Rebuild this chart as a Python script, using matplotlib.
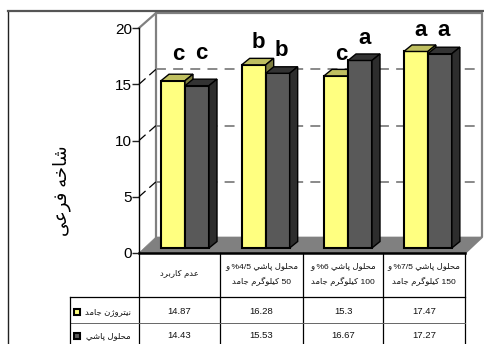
import re
import unicodedata
import numpy as np
import matplotlib
matplotlib.use('Agg')
import matplotlib.pyplot as plt
from matplotlib.patches import Polygon, Rectangle

plt.rcParams['font.family'] = ['Liberation Sans', 'DejaVu Sans']

categories = ['عدم کاربرد',
              'محلول پاشي %4/5 و\n50 کيلوگرم جامد',
              'محلول پاشي %6 و\n100 کيلوگرم جامد',
              'محلول پاشي %7/5 و\n150 کيلوگرم جامد']
series_names = ['نيتروژن جامد', 'محلول پاشي']
solid_n = [14.87, 16.28, 15.3, 17.47]
spray = [14.43, 15.53, 16.67, 17.27]
solid_letters = ['c', 'b', 'c', 'a']
spray_letters = ['c', 'b', 'a', 'a']
solid_letter_y = [17.6, 18.7, 17.6, 19.8]
spray_letter_y = [17.7, 18.0, 19.1, 19.8]
yticks = [0, 5, 10, 15, 20]
ylabel = 'شاخه فرعی'

# contextual forms, matplotlib does no arabic shaping itself
forms = {}
for code in list(range(0xFB50, 0xFE00)) + list(range(0xFE70, 0xFEFF)):
    d = unicodedata.decomposition(chr(code)).split()
    if len(d) == 2 and d[0] in ('<isolated>', '<final>', '<initial>', '<medial>'):
        forms.setdefault(chr(int(d[1], 16)), {}).setdefault(d[0], chr(code))
no_next = set('اآدذرزژو')


def shape_word(w):
    out = ''
    for i, c in enumerate(w):
        prev = i > 0 and w[i - 1] not in no_next
        nxt = i < len(w) - 1 and c not in no_next
        key = {(0, 0): '<isolated>', (1, 0): '<final>', (0, 1): '<initial>', (1, 1): '<medial>'}[(int(prev), int(nxt))]
        out += forms.get(c, {}).get(key, c)
    return out[::-1]


def shape(text):
    lines = []
    for line in text.split('\n'):
        words = [shape_word(w) if re.search('[\u0600-\u06ff]', w) else w for w in line.split(' ')]
        lines.append(' '.join(words[::-1]))
    return '\n'.join(lines)


fig = plt.figure(figsize=(4.85, 3.44), dpi=100, facecolor='white')

# pixel layer for walls, table and frame
px = fig.add_axes([0, 0, 1, 1])
px.set_xlim(0, 485)
px.set_ylim(344, 0)
px.axis('off')

x0, x1, y0, y20 = 139, 465, 253, 28
ddx, ddy = 17, 16
px.add_patch(Polygon([(x0, y0), (x0 + ddx, y0 - ddy), (x1 + ddx, y0 - ddy), (x1, y0)], fc='#808080', ec='#808080', lw=0.5))
px.plot([x0, x0 + ddx, x1 + ddx, x1 + ddx, x1], [y20, y20 - 15, y20 - 15, y0 - ddy, y0], color='#808080', lw=1.6)
px.plot([x0 + ddx, x0 + ddx], [y20 - 15, y0 - ddy], color='#808080', lw=1.6)

# outer frame
px.plot([8, 8], [344, 11], color='#222222', lw=1)
px.plot([8, 485], [11, 11], color='#555555', lw=1.6)

ax = fig.add_axes([x0 / 485, (344 - y0) / 344, (x1 - x0) / 485, (y0 - y20) / 344])
ax.set_xlim(0, 4)
ax.set_ylim(0, 20)
ax.patch.set_alpha(0)
for s in ax.spines.values():
    s.set_visible(False)
ax.spines['left'].set_visible(True)
ax.spines['left'].set_linewidth(1)
ax.set_xticks([])
ax.set_yticks(yticks)
ax.tick_params(axis='y', length=5, width=1, labelsize=11, pad=0, color='#222222')

xu = (x1 - x0) / 4
yu = (y0 - y20) / 20
wall_x, wall_y = ddx / xu, 15 / yu
for v in yticks[1:-1]:
    ax.plot([0, wall_x], [v, v + wall_y], color='black', lw=0.9, ls=(0, (7, 4)), clip_on=False, zorder=1)
    ax.plot([wall_x, 4 + wall_x], [v + wall_y, v + wall_y], color='#808080', lw=1.3, ls=(0, (5.5, 4)), clip_on=False, zorder=1)

# bars sit part way into the floor, so shift them off the front edge
shift_x, shift_y = 0.27, 5 / yu
width = 24 / xu
dep_x, dep_y = 8 / xu, 6.5 / yu
starts = np.arange(4) + np.array([0, -0.01, 0, -0.02]) + shift_x


def draw_series(left, vals, face, top, side, edge_front):
    ax.bar(left, vals, width, bottom=shift_y, align='edge', color=face, edgecolor=edge_front, lw=1.5, clip_on=False, zorder=3)
    for l, v in zip(left, vals):
        t = v + shift_y
        ax.add_patch(Polygon([(l, t), (l + dep_x, t + dep_y), (l + width + dep_x, t + dep_y), (l + width, t)],
                             fc=top, ec='black', lw=1, clip_on=False, zorder=3))
        ax.add_patch(Polygon([(l + width, t), (l + width + dep_x, t + dep_y), (l + width + dep_x, shift_y + dep_y), (l + width, shift_y)],
                             fc=side, ec='black', lw=1, clip_on=False, zorder=3))


draw_series(starts, solid_n, '#FFFF80', '#BFBF60', '#7F7F40', 'black')
draw_series(starts + width, spray, '#595959', '#333333', '#2D2D2D', 'black')

for i in range(4):
    ax.text(starts[i] + width / 2 + 0.06, solid_letter_y[i], solid_letters[i], ha='center', va='center',
            fontsize=16, fontweight='bold', clip_on=False, zorder=5)
    ax.text(starts[i] + width * 1.5 + 0.05, spray_letter_y[i], spray_letters[i], ha='center', va='center',
            fontsize=16, fontweight='bold', clip_on=False, zorder=5)

px.text(62, 191, shape(ylabel), rotation=90, ha='center', va='center', fontsize=13)

# data table below the plot
cols = [x0 + i * (x1 - x0) / 4 for i in range(5)]
cols[1:4] = [220, 303, 383]
px.plot([x0, x1], [y0, y0], color='black', lw=1.8, zorder=6)
for x in cols:
    px.plot([x, x], [y0, 344], color='black', lw=0.9)
px.plot([70, x1], [297, 297], color='black', lw=0.9)
px.plot([70, x1], [323, 323], color='#666666', lw=0.7)
px.plot([70, 70], [297, 344], color='black', lw=0.9)

for i, c in enumerate(categories):
    cx = (cols[i] + cols[i + 1]) / 2
    px.text(cx, 274, shape(c), ha='center', va='center', fontsize=6.1, linespacing=2.0, color='#111111')
    px.text(cx, 311, '%g' % solid_n[i], ha='center', va='center', fontsize=6.8, color='#111111')
    px.text(cx, 335, '%g' % spray[i], ha='center', va='center', fontsize=6.8, color='#111111')

for name, face, y in zip(series_names, ['#FFFF80', '#595959'], [312, 336]):
    px.add_patch(Rectangle((74, y - 3.5), 6.5, 6.5, fc=face, ec='black', lw=1.5))
    px.text(131, y, shape(name), ha='right', va='center', fontsize=6.1, color='#111111')

fig.savefig('out.png', dpi=100)
